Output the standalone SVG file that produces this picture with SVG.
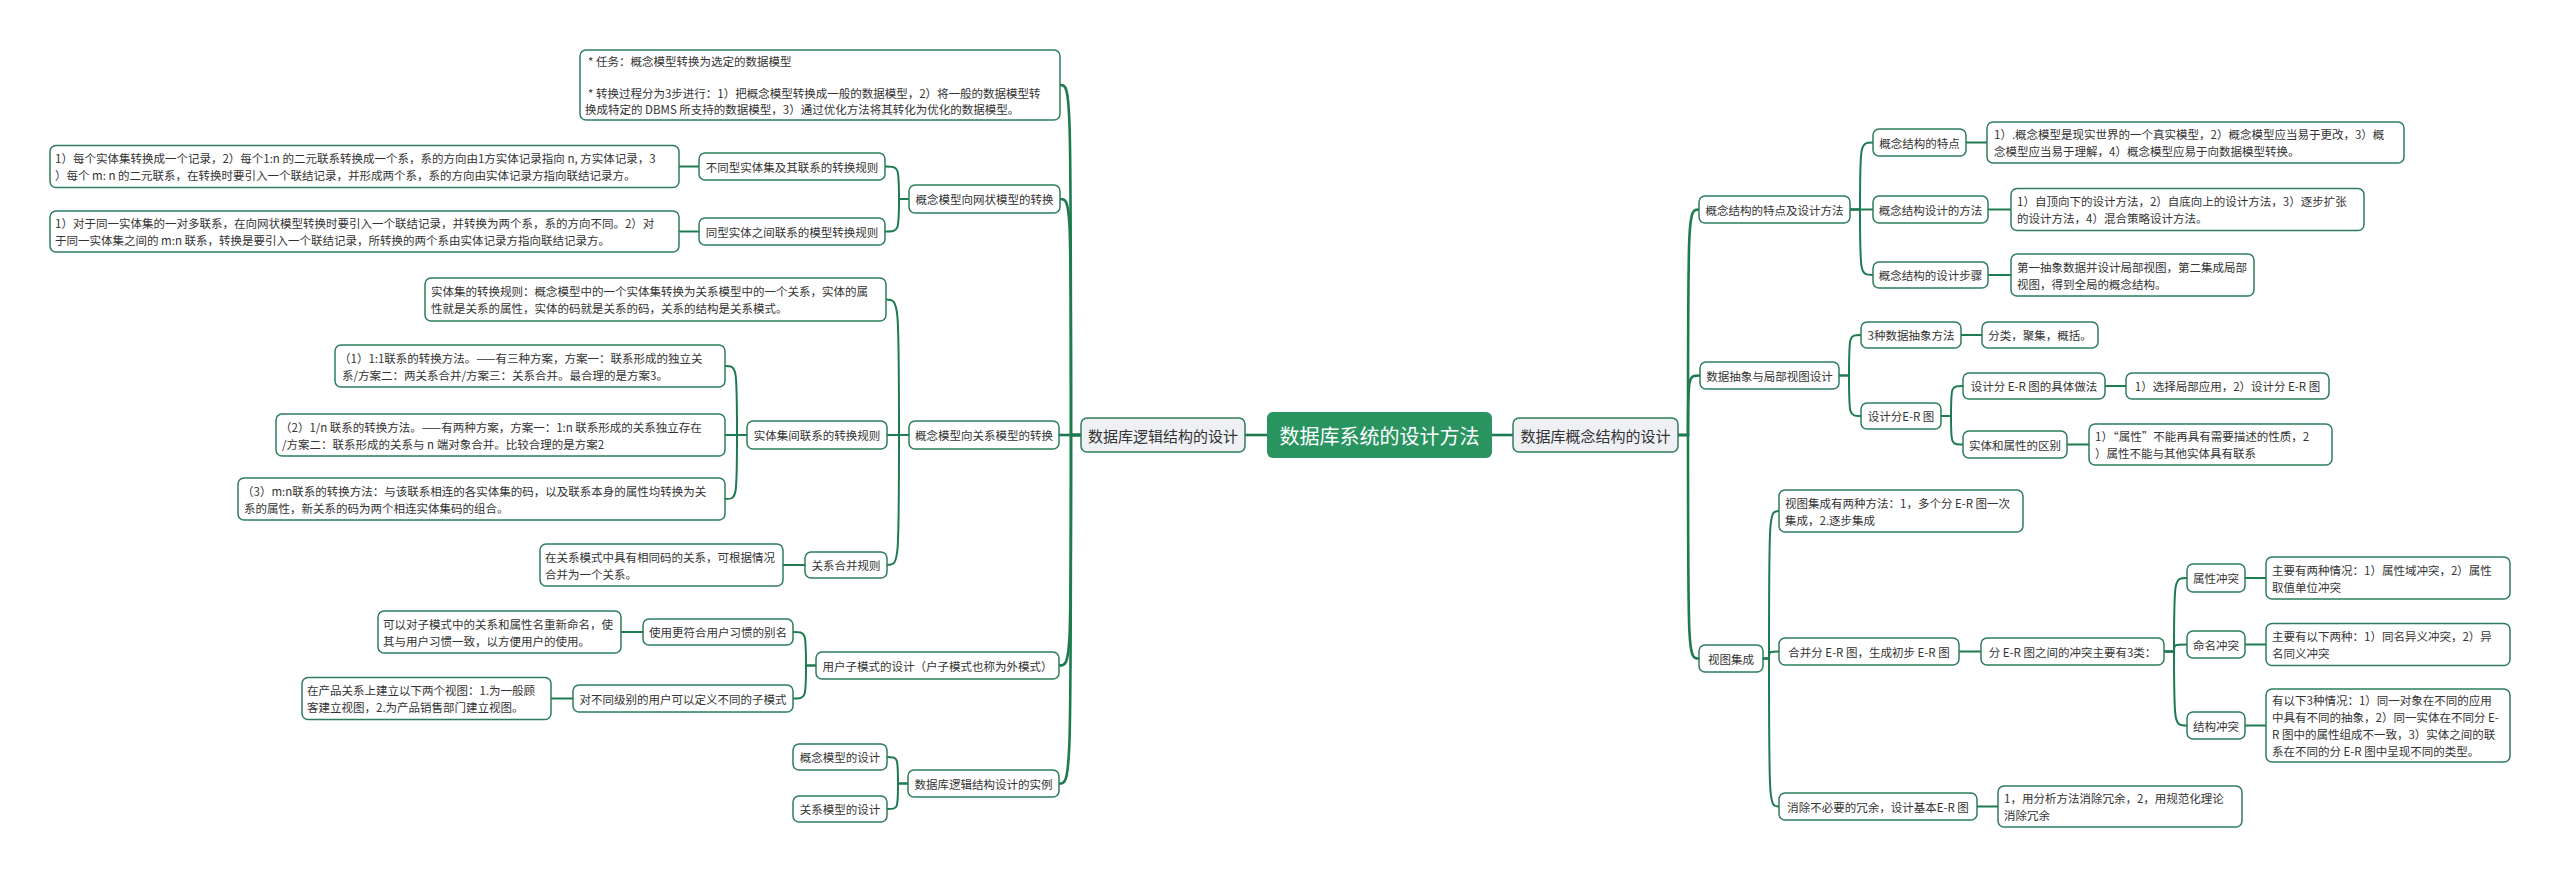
<svg xmlns="http://www.w3.org/2000/svg" width="2560" height="878" viewBox="0 0 2560 878">
<style>
.n rect{fill:#fff;stroke:#2e7d5b;stroke-width:1.5}
.l1 rect{fill:#eef0f3;stroke:#2e7d5b;stroke-width:1.5}
.root rect{fill:#2a9461;stroke:none}
text{font-family:"Noto Sans CJK SC","Microsoft YaHei",sans-serif;fill:#333;dominant-baseline:central}
.t{font-size:11.5px}
.m{font-size:11.5px;text-anchor:middle}
.h1{font-size:15px;text-anchor:middle}
.rt{font-size:20px;text-anchor:middle;fill:#fff}
#conn path{fill:none;stroke:#1e7b4f;stroke-width:2}
#conn path.k{stroke-width:2.6}
</style>
<rect width="2560" height="878" fill="#fff"/>
<g id="conn">
<path class="k" d="M1267,435H1245"/>
<path class="k" d="M1492,435H1513"/>
<path class="k" d="M1081,435H1071C1071,85 1071,85 1060,85"/>
<path class="k" d="M1081,435H1071C1071,199 1071,199 1060,199"/>
<path class="k" d="M1081,435H1059"/>
<path class="k" d="M1081,435H1071C1071,665.5 1071,665.5 1059,665.5"/>
<path class="k" d="M1081,435H1071C1071,783.5 1071,783.5 1059,783.5"/>
<path d="M909,199H899C899,166.5 899,166.5 885,166.5"/>
<path d="M909,199H899C899,231.5 899,231.5 885,231.5"/>
<path d="M699,166.5H679"/>
<path d="M699,231.5H679"/>
<path d="M909,435H899C899,299.5 899,299.5 886,299.5"/>
<path d="M909,435H887"/>
<path d="M909,435H899C899,565 899,565 887,565"/>
<path d="M747,435H737C737,366 737,366 725,366"/>
<path d="M747,435H725"/>
<path d="M747,435H737C737,499 737,499 725,499"/>
<path d="M805,565H783"/>
<path d="M816,665.5H806C806,632 806,632 793,632"/>
<path d="M816,665.5H806C806,698.5 806,698.5 793,698.5"/>
<path d="M643,632H621"/>
<path d="M573,698.5H551"/>
<path d="M908,783.5H898C898,757 898,757 887,757"/>
<path d="M908,783.5H898C898,809 898,809 887,809"/>
<path class="k" d="M1678,435H1688C1688,209.5 1688,209.5 1699,209.5"/>
<path class="k" d="M1678,435H1688C1688,375.5 1688,375.5 1700,375.5"/>
<path class="k" d="M1678,435H1688C1688,658.5 1688,658.5 1699,658.5"/>
<path d="M1850,209.5H1860C1860,142.5 1860,142.5 1873,142.5"/>
<path d="M1850,209.5H1873"/>
<path d="M1850,209.5H1860C1860,275 1860,275 1873,275"/>
<path d="M1966,142.5H1987"/>
<path d="M1988,209.5H2011"/>
<path d="M1988,275H2011"/>
<path d="M1839,375.5H1849C1849,335 1849,335 1861,335"/>
<path d="M1839,375.5H1849C1849,416 1849,416 1861,416"/>
<path d="M1961,335H1982"/>
<path d="M1941,416H1951C1951,386 1951,386 1963,386"/>
<path d="M1941,416H1951C1951,444.5 1951,444.5 1963,444.5"/>
<path d="M2105,386H2126"/>
<path d="M2067,444.5H2089"/>
<path d="M1763,658.5H1769C1769,511 1769,511 1779,511"/>
<path d="M1763,658.5H1769C1769,651.5 1769,651.5 1779,651.5"/>
<path d="M1763,658.5H1769C1769,806.5 1769,806.5 1779,806.5"/>
<path d="M1959,651.5H1981"/>
<path d="M2164,651.5H2174C2174,578 2174,578 2187,578"/>
<path d="M2164,651.5H2174C2174,644.5 2174,644.5 2187,644.5"/>
<path d="M2164,651.5H2174C2174,725.5 2174,725.5 2187,725.5"/>
<path d="M2245,578H2266"/>
<path d="M2245,644.5H2266"/>
<path d="M2245,725.5H2266"/>
<path d="M1977,806.5H1998"/>
</g>

<g id="root" class="root"><rect x="1267" y="412" width="225" height="46" rx="6"/><text class="rt" x="1379.5" y="435">数据库系统的设计方法</text></g>
<g id="logic" class="l1"><rect x="1081" y="418" width="164" height="34" rx="6"/><text class="h1" x="1163" y="435">数据库逻辑结构的设计</text></g>
<g id="concept" class="l1"><rect x="1513" y="418" width="165" height="34" rx="6"/><text class="h1" x="1595.5" y="435">数据库概念结构的设计</text></g>

<g id="task" class="n"><rect x="580" y="50" width="480" height="70" rx="6"/><text class="t"><tspan x="588" y="61">* 任务：概念模型转换为选定的数据模型</tspan><tspan x="588" y="93">* 转换过程分为3步进行：1）把概念模型转换成一般的数据模型，2）将一般的数据模型转</tspan><tspan x="585" y="109">换成特定的 DBMS 所支持的数据模型，3）通过优化方法将其转化为优化的数据模型。</tspan></text></g>

<g id="net" class="n"><rect x="909" y="185" width="151" height="28" rx="6"/><text class="m" x="984.5" y="199">概念模型向网状模型的转换</text></g>
<g id="net1" class="n"><rect x="699" y="153" width="186" height="27" rx="6"/><text class="m" x="792" y="166.5">不同型实体集及其联系的转换规则</text></g>
<g id="net2" class="n"><rect x="699" y="218" width="186" height="27" rx="6"/><text class="m" x="792" y="231.5">同型实体之间联系的模型转换规则</text></g>
<g id="net1a" class="n"><rect x="50" y="145.5" width="629" height="42" rx="6"/><text class="t"><tspan x="55" y="158">1）每个实体集转换成一个记录，2）每个1:n 的二元联系转换成一个系，系的方向由1方实体记录指向 n, 方实体记录，3</tspan><tspan x="55" y="175">）每个 m: n 的二元联系，在转换时要引入一个联结记录，并形成两个系，系的方向由实体记录方指向联结记录方。</tspan></text></g>
<g id="net2a" class="n"><rect x="50" y="211" width="629" height="41" rx="6"/><text class="t"><tspan x="55" y="223">1）对于同一实体集的一对多联系，在向网状模型转换时要引入一个联结记录，并转换为两个系，系的方向不同。2）对</tspan><tspan x="55" y="240">于同一实体集之间的 m:n 联系，转换是要引入一个联结记录，所转换的两个系由实体记录方指向联结记录方。</tspan></text></g>

<g id="rel" class="n"><rect x="909" y="421" width="150" height="28" rx="6"/><text class="m" x="984" y="435">概念模型向关系模型的转换</text></g>
<g id="rel0" class="n"><rect x="425" y="278" width="461" height="43" rx="6"/><text class="t"><tspan x="431" y="291">实体集的转换规则：概念模型中的一个实体集转换为关系模型中的一个关系，实体的属</tspan><tspan x="431" y="308">性就是关系的属性，实体的码就是关系的码，关系的结构是关系模式。</tspan></text></g>
<g id="rel1" class="n"><rect x="747" y="421" width="140" height="28" rx="6"/><text class="m" x="817" y="435">实体集间联系的转换规则</text></g>
<g id="rel1a" class="n"><rect x="335" y="345" width="390" height="42" rx="6"/><text class="t"><tspan x="339" y="357.5">（1）1:1联系的转换方法。——有三种方案，方案一：联系形成的独立关</tspan><tspan x="342" y="374.5">系/方案二：两关系合并/方案三：关系合并。最合理的是方案3。</tspan></text></g>
<g id="rel1b" class="n"><rect x="276" y="414" width="449" height="42" rx="6"/><text class="t"><tspan x="280" y="426.5">（2）1/n 联系的转换方法。——有两种方案，方案一：1:n 联系形成的关系独立存在</tspan><tspan x="282" y="443.5">/方案二：联系形成的关系与 n 端对象合并。比较合理的是方案2</tspan></text></g>
<g id="rel1c" class="n"><rect x="238" y="478" width="487" height="42" rx="6"/><text class="t"><tspan x="242" y="490.5">（3）m:n联系的转换方法：与该联系相连的各实体集的码，以及联系本身的属性均转换为关</tspan><tspan x="244" y="507.5">系的属性，新关系的码为两个相连实体集码的组合。</tspan></text></g>
<g id="rel2" class="n"><rect x="805" y="552" width="82" height="26" rx="6"/><text class="m" x="846" y="565">关系合并规则</text></g>
<g id="rel2a" class="n"><rect x="540" y="544" width="243" height="42" rx="6"/><text class="t"><tspan x="545" y="556.5">在关系模式中具有相同码的关系，可根据情况</tspan><tspan x="545" y="573.5">合并为一个关系。</tspan></text></g>

<g id="sub" class="n"><rect x="816" y="652" width="243" height="27" rx="6"/><text class="m" x="937.5" y="665.5">用户子模式的设计（户子模式也称为外模式）</text></g>
<g id="sub1" class="n"><rect x="643" y="619" width="150" height="26" rx="6"/><text class="m" x="718" y="632">使用更符合用户习惯的别名</text></g>
<g id="sub2" class="n"><rect x="573" y="685" width="220" height="27" rx="6"/><text class="m" x="683" y="698.5">对不同级别的用户可以定义不同的子模式</text></g>
<g id="sub1a" class="n"><rect x="378" y="611" width="243" height="42" rx="6"/><text class="t"><tspan x="383" y="623.5">可以对子模式中的关系和属性名重新命名，使</tspan><tspan x="383" y="640.5">其与用户习惯一致，以方便用户的使用。</tspan></text></g>
<g id="sub2a" class="n"><rect x="302" y="677.5" width="249" height="42" rx="6"/><text class="t"><tspan x="307" y="690">在产品关系上建立以下两个视图：1.为一般顾</tspan><tspan x="307" y="707">客建立视图，2.为产品销售部门建立视图。</tspan></text></g>

<g id="ex" class="n"><rect x="908" y="770" width="151" height="27" rx="6"/><text class="m" x="983.5" y="783.5">数据库逻辑结构设计的实例</text></g>
<g id="ex1" class="n"><rect x="793" y="744" width="94" height="26" rx="6"/><text class="m" x="840" y="757">概念模型的设计</text></g>
<g id="ex2" class="n"><rect x="793" y="796" width="94" height="26" rx="6"/><text class="m" x="840" y="809">关系模型的设计</text></g>

<g id="feat" class="n"><rect x="1699" y="196" width="151" height="27" rx="6"/><text class="m" x="1774.5" y="209.5">概念结构的特点及设计方法</text></g>
<g id="feat1" class="n"><rect x="1873" y="129" width="93" height="27" rx="6"/><text class="m" x="1919.5" y="142.5">概念结构的特点</text></g>
<g id="feat2" class="n"><rect x="1873" y="196" width="115" height="27" rx="6"/><text class="m" x="1930.5" y="209.5">概念结构设计的方法</text></g>
<g id="feat3" class="n"><rect x="1873" y="262" width="115" height="26" rx="6"/><text class="m" x="1930.5" y="275">概念结构的设计步骤</text></g>
<g id="feat1a" class="n"><rect x="1987" y="122" width="417" height="41" rx="6"/><text class="t"><tspan x="1994" y="134">1）.概念模型是现实世界的一个真实模型，2）概念模型应当易于更改，3）概</tspan><tspan x="1994" y="151">念模型应当易于理解，4）概念模型应易于向数据模型转换。</tspan></text></g>
<g id="feat2a" class="n"><rect x="2011" y="188.5" width="353" height="42" rx="6"/><text class="t"><tspan x="2017" y="201">1）自顶向下的设计方法，2）自底向上的设计方法，3）逐步扩张</tspan><tspan x="2017" y="218">的设计方法，4）混合策略设计方法。</tspan></text></g>
<g id="feat3a" class="n"><rect x="2011" y="254" width="243" height="42" rx="6"/><text class="t"><tspan x="2017" y="266.5">第一抽象数据并设计局部视图，第二集成局部</tspan><tspan x="2017" y="283.5">视图，得到全局的概念结构。</tspan></text></g>

<g id="abs" class="n"><rect x="1700" y="362" width="139" height="27" rx="6"/><text class="m" x="1769.5" y="375.5">数据抽象与局部视图设计</text></g>
<g id="abs1" class="n"><rect x="1861" y="322" width="100" height="26" rx="6"/><text class="m" x="1911" y="335">3种数据抽象方法</text></g>
<g id="abs1a" class="n"><rect x="1982" y="322" width="116" height="26" rx="6"/><text class="m" x="2040" y="335">分类，聚集，概括。</text></g>
<g id="abs2" class="n"><rect x="1861" y="403" width="80" height="26" rx="6"/><text class="m" x="1901" y="416">设计分E-R 图</text></g>
<g id="abs21" class="n"><rect x="1963" y="373" width="142" height="26" rx="6"/><text class="m" x="2034" y="386">设计分 E-R 图的具体做法</text></g>
<g id="abs21a" class="n"><rect x="2126" y="373" width="203" height="26" rx="6"/><text class="m" x="2227.5" y="386">1）选择局部应用，2）设计分 E-R 图</text></g>
<g id="abs22" class="n"><rect x="1963" y="431" width="104" height="27" rx="6"/><text class="m" x="2015" y="444.5">实体和属性的区别</text></g>
<g id="abs22a" class="n"><rect x="2089" y="424" width="243" height="41" rx="6"/><text class="t"><tspan x="2095" y="436">1）“属性”不能再具有需要描述的性质，2</tspan><tspan x="2095" y="453">）属性不能与其他实体具有联系</tspan></text></g>

<g id="int" class="n"><rect x="1699" y="645" width="64" height="27" rx="6"/><text class="m" x="1731" y="658.5">视图集成</text></g>
<g id="int1" class="n"><rect x="1779" y="490" width="244" height="42" rx="6"/><text class="t"><tspan x="1785" y="502.5">视图集成有两种方法：1，多个分 E-R 图一次</tspan><tspan x="1785" y="519.5">集成，2.逐步集成</tspan></text></g>
<g id="int2" class="n"><rect x="1779" y="638" width="180" height="27" rx="6"/><text class="m" x="1869" y="651.5">合并分 E-R 图，生成初步 E-R 图</text></g>
<g id="int2a" class="n"><rect x="1981" y="638" width="183" height="27" rx="6"/><text class="m" x="2072.5" y="651.5">分 E-R 图之间的冲突主要有3类：</text></g>
<g id="cf1" class="n"><rect x="2187" y="564" width="58" height="28" rx="6"/><text class="m" x="2216" y="578">属性冲突</text></g>
<g id="cf2" class="n"><rect x="2187" y="631" width="58" height="27" rx="6"/><text class="m" x="2216" y="644.5">命名冲突</text></g>
<g id="cf3" class="n"><rect x="2187" y="712" width="58" height="27" rx="6"/><text class="m" x="2216" y="725.5">结构冲突</text></g>
<g id="cf1a" class="n"><rect x="2266" y="557" width="244" height="42" rx="6"/><text class="t"><tspan x="2272" y="569.5">主要有两种情况：1）属性域冲突，2）属性</tspan><tspan x="2272" y="586.5">取值单位冲突</tspan></text></g>
<g id="cf2a" class="n"><rect x="2266" y="623.5" width="244" height="42" rx="6"/><text class="t"><tspan x="2272" y="636">主要有以下两种：1）同名异义冲突，2）异</tspan><tspan x="2272" y="653">名同义冲突</tspan></text></g>
<g id="cf3a" class="n"><rect x="2266" y="689" width="244" height="73" rx="6"/><text class="t"><tspan x="2272" y="700">有以下3种情况：1）同一对象在不同的应用</tspan><tspan x="2272" y="717">中具有不同的抽象，2）同一实体在不同分 E-</tspan><tspan x="2272" y="734">R 图中的属性组成不一致，3）实体之间的联</tspan><tspan x="2272" y="751">系在不同的分 E-R 图中呈现不同的类型。</tspan></text></g>
<g id="int3" class="n"><rect x="1779" y="793" width="198" height="27" rx="6"/><text class="m" x="1878" y="806.5">消除不必要的冗余，设计基本E-R 图</text></g>
<g id="int3a" class="n"><rect x="1998" y="786" width="244" height="41" rx="6"/><text class="t"><tspan x="2004" y="798">1，用分析方法消除冗余，2，用规范化理论</tspan><tspan x="2004" y="815">消除冗余</tspan></text></g>
</svg>
